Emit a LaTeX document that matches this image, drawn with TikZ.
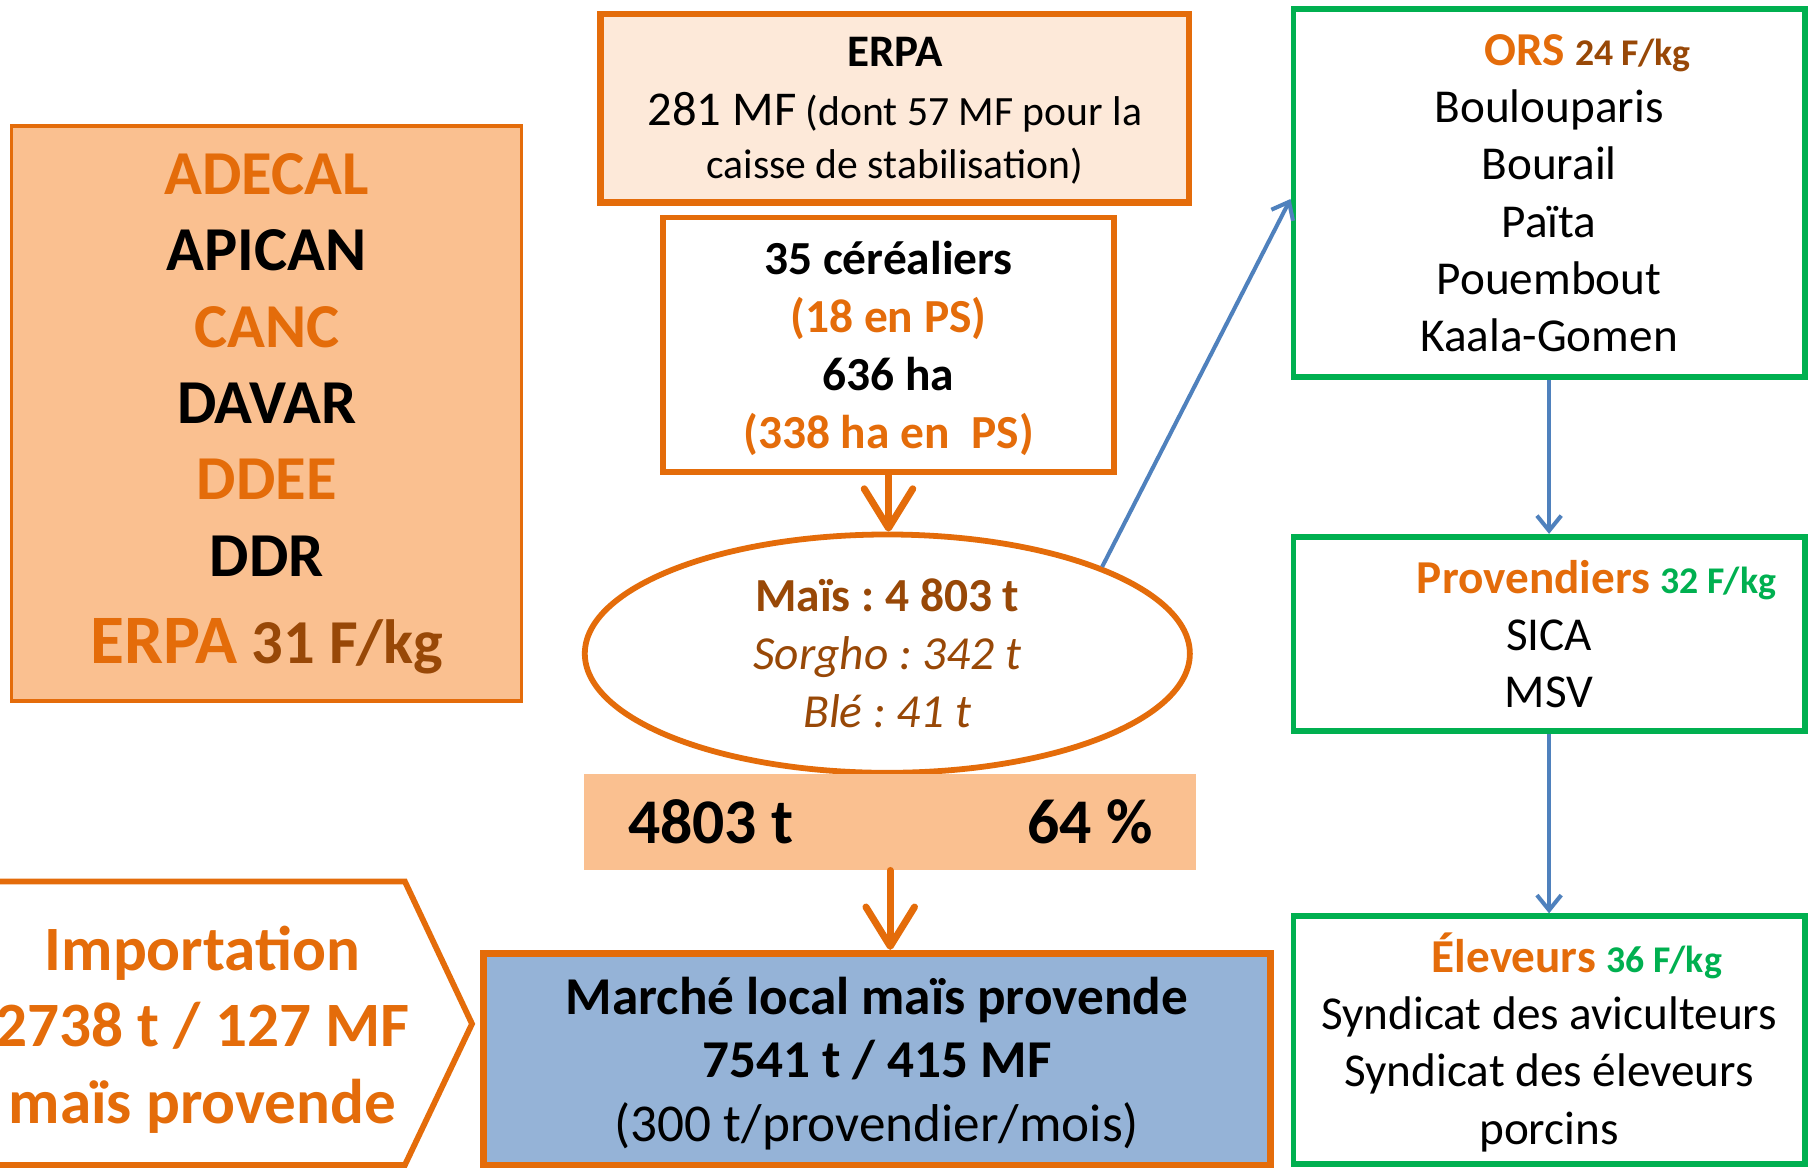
\documentclass[tikz,border=0pt]{standalone}
\usepackage{fontspec}
\setmainfont{Carlito}
\frenchspacing
\usetikzlibrary{arrows.meta,shapes.geometric,calc}
\definecolor{org}{HTML}{E46C0A}
\definecolor{brn}{HTML}{984807}
\definecolor{peach}{HTML}{FDE9D9}
\definecolor{salmon}{HTML}{FAC090}
\definecolor{grn}{HTML}{00B050}
\definecolor{bluefill}{HTML}{95B3D7}
\definecolor{blueline}{HTML}{4F81BD}
\begin{document}
\frenchspacing
\begin{tikzpicture}[x=0.5pt,y=-0.5pt,
  box/.style={rectangle, inner sep=0pt, align=center},
  obox/.style={box, draw=org, line width=2.5pt},
  gbox/.style={box, draw=grn, line width=2.5pt, fill=white, minimum width=221pt, font=\fontsize{20.4}{24.75}\selectfont},
  oarrow/.style={draw=org, line width=3pt, line cap=round, -{Straight Barb[length=17pt,width=21pt,line cap=round,line join=round]}},
  barrow/.style={draw=blueline, line width=1.75pt, -{Straight Barb[length=6.5pt,width=10.5pt]}}
]
\useasboundingbox (0,0) rectangle (1568,1010);
\fill[white] (0,0) rectangle (1568,1010);

% left list box
\node[box, draw=org, line width=1.5pt, fill=salmon, minimum width=220.5pt, minimum height=248.5pt,
  font=\fontsize{27}{33}\selectfont\bfseries] (adecal) at (230.5,357.5)
  {\textcolor{org}{ADECAL}\\ APICAN\\ \textcolor{org}{CANC}\\ DAVAR\\ \textcolor{org}{DDEE}\\ DDR\\[4.5pt]
   {\fontsize{30}{33}\selectfont\textcolor{org}{ERPA}} \textcolor{brn}{31 F/kg}};

% ERPA box
\node[obox, line width=2.75pt, fill=peach, minimum width=254.5pt, minimum height=81.5pt, text depth=0pt,
  font=\fontsize{18}{23}\selectfont] (erpa) at (773.5,93.5)
  {{\fontsize{19.5}{23}\selectfont\bfseries ERPA}\\[2.5pt]
   {\fontsize{21}{23}\selectfont 281 MF} (dont 57 MF pour la\\ caisse de stabilisation)};

% cereal growers box
\node[obox, fill=white, minimum width=195pt, minimum height=110pt, text depth=0pt,
  font=\fontsize{20.5}{25}\selectfont\bfseries] (cer) at (768,298)
  {35 céréaliers\\ \textcolor{org}{(18 en PS)}\\ 636 ha\\ \textcolor{org}{(338 ha en\ \ PS)}};

% ellipse
\node[ellipse, draw=org, line width=2.5pt, fill=white, inner sep=0pt, minimum width=261.5pt, minimum height=103pt,
  align=center, text=brn, font=\fontsize{20.5}{25}\selectfont] (ell) at (767,565)
  {\textbf{Maïs : 4 803 t}\\ \textit{Sorgho : 342 t}\\ \textit{Blé : 41 t}};

% salmon strip
\node[box, fill=salmon, minimum width=264.5pt, minimum height=41.5pt,
  font=\fontsize{27.5}{33}\selectfont\bfseries] (sal) at (769.5,710.5)
  {4803 t\hspace{101pt}64 \%};

% local market box
\node[obox, line width=3pt, fill=bluefill, minimum width=340pt, minimum height=91.5pt, text depth=0pt,
  font=\fontsize{23}{27.5}\selectfont] (mar) at (758,915.5)
  {\textbf{Marché local maïs provende}\\ \textbf{7541 t / 415 MF}\\ (300 t/provendier/mois)};

% import chevron
\draw[org, line width=2.5pt, fill=white, line join=miter]
  (-20,762) -- (350,762) -- (408,885) -- (350,1007) -- (-20,1007) -- cycle;
\node[align=center, text=org, inner sep=0pt, font=\fontsize{27.3}{33}\selectfont\bfseries] (imp) at (175,890)
  {Importation\\ 2738 t / 127 MF\\ maïs provende};

% green boxes
\node[gbox, minimum height=159pt] (ors) at (1339,167)
  {\hbox{\kern16.5pt\textcolor{org}{\textbf{ORS}} \textcolor{brn}{\fontsize{16.3}{20}\selectfont\textbf{24 F/kg}}\kern-16.5pt}\\
   Boulouparis\\ Bourail\\ Païta\\ Pouembout\\ Kaala-Gomen};
\node[gbox, minimum height=84pt] (prov) at (1339,548)
  {\hbox{\kern20.5pt\textcolor{org}{\textbf{Provendiers}} \textcolor{grn}{\fontsize{16.3}{20}\selectfont\textbf{32 F/kg}}\kern-20.5pt}\\
   SICA\\ MSV};
\node[gbox, minimum height=107pt, text depth=1.5pt] (elev) at (1339,899)
  {\hbox{\kern12pt\textcolor{org}{\textbf{Éleveurs}} \textcolor{grn}{\fontsize{16.3}{20}\selectfont\textbf{36 F/kg}}\kern-12pt}\\
   Syndicat des aviculteurs\\ Syndicat des éleveurs\\ porcins};

% connectors
\draw[oarrow] (cer.south) -- (cer.south |- ell.north);
\draw[oarrow] (sal.south) -- (sal.south |- mar.north);
\draw[barrow] (ell.22) -- ([yshift=-2.5pt]ors.west);
\draw[barrow] (ors.south) -- (prov.north);
\draw[barrow] (prov.south) -- (elev.north);
\end{tikzpicture}
\end{document}
